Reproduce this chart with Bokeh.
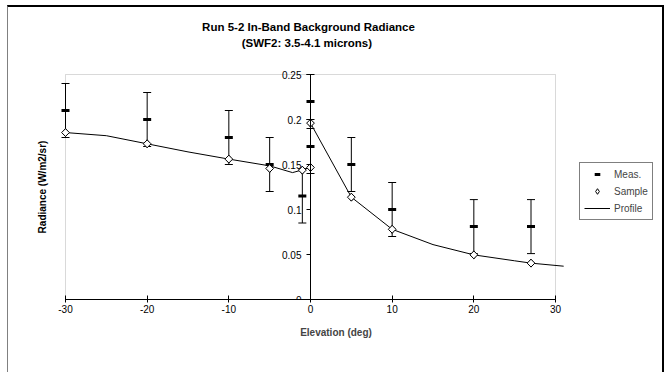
from bokeh.plotting import figure
from bokeh.models import (Range1d, FixedTicker, ColumnDataSource, Whisker, TeeHead,
                          Legend, LegendItem, Label, BoxAnnotation)
from bokeh.embed import file_html
from bokeh.resources import INLINE
import math

# ---- data ----
title_lines = ["Run 5-2 In-Band Background Radiance", "(SWF2:  3.5-4.1 microns)"]
x_label = "Elevation (deg)"
y_label = "Radiance (W/m2/sr)"

meas_x = [-30, -20, -10, -5, -1, 0, 0, 5, 10, 20, 27]
meas_y = [0.21, 0.20, 0.18, 0.15, 0.115, 0.22, 0.17, 0.15, 0.10, 0.081, 0.081]
meas_err = [0.03, 0.03, 0.03, 0.03, 0.03, 0.03, 0.03, 0.03, 0.03, 0.03, 0.03]

sample_x = [-30, -20, -10, -5, -1, 0, 0, 5, 10, 20, 27]
sample_y = [0.1855, 0.173, 0.156, 0.1456, 0.1437, 0.1467, 0.196, 0.1137, 0.078, 0.0496, 0.0404]

profile_x = [-30, -25, -20, -15, -10, -5, -2.2, -1, 0, 0, 5, 10, 15, 20, 25, 27, 31]
profile_y = [0.1855, 0.182, 0.173, 0.164, 0.156, 0.1485, 0.141, 0.144, 0.147, 0.196,
             0.1137, 0.078, 0.061, 0.0496, 0.043, 0.0404, 0.037]

x_ticks = [-30, -20, -10, 0, 10, 20, 30]
x_tick_labels = ["-30", "-20", "-10", "0", "10", "20", "30"]
y_ticks = [0, 0.05, 0.1, 0.15, 0.2, 0.25]
y_tick_labels = ["0", "0.05", "0.1", "0.15", "0.2", "0.25"]
x_min, x_max = -30, 30
y_min, y_max = 0, 0.25

FONT = "Liberation Sans"

# ---- layout (pixels, page coordinates) ----
CONTENT_L, CONTENT_T = 7, 5          # inside the outer border
CONTENT_W, CONTENT_H = 657, 367
AREA_L, AREA_R, AREA_T, AREA_B = 64, 554, 72, 297   # grey plot-area box
FRAME_L, FRAME_R, FRAME_T = CONTENT_L, 662, CONTENT_T
kx = (AREA_R - AREA_L) / (x_max - x_min)
ky = (AREA_B - AREA_T) / (y_max - y_min)
x0 = x_min - (AREA_L - FRAME_L) / kx
x1 = x_max + (FRAME_R - AREA_R) / kx
y1 = y_min + (AREA_B - FRAME_T) / ky

def dx(px):
    return x_min + (px - AREA_L) / kx

def dy(py):
    return y_min + (AREA_B - py) / ky

p = figure(width=CONTENT_W, height=CONTENT_H, output_backend="svg", toolbar_location=None,
           x_range=Range1d(x0, x1), y_range=Range1d(y_min, y1), title=None,
           min_border_left=FRAME_L - CONTENT_L, min_border_right=CONTENT_L + CONTENT_W - FRAME_R,
           min_border_top=0, min_border_bottom=CONTENT_T + CONTENT_H - AREA_B)
p.margin = (CONTENT_T, 669 - CONTENT_L - CONTENT_W, 0, CONTENT_L)
p.styles = {"border-top": "2px solid #000000", "border-left": "1px solid #808080",
            "border-right": "2px solid #000000"}

p.grid.visible = False
p.outline_line_color = None
p.background_fill_color = "white"
p.border_fill_color = "white"

p.add_layout(BoxAnnotation(left=x_min, right=x_max, bottom=y_min, top=y_max,
                           fill_alpha=0, line_color="#808080", line_width=1, level="underlay"))

# titles
for i, t in enumerate(title_lines):
    p.add_layout(Label(x=dx(307), y=dy(24 + 16 * i), text=t, text_align="center",
                       text_baseline="middle", text_font=FONT, text_font_size="11.5px",
                       text_font_style="bold", text_color="black"))

# x axis
xa = p.xaxis[0]
xa.bounds = (x_min, x_max)
xa.ticker = FixedTicker(ticks=x_ticks)
xa.major_label_overrides = {t: s for t, s in zip(x_ticks, x_tick_labels)}
xa.minor_tick_line_color = None
xa.major_tick_in = 4
xa.major_tick_out = 3
xa.axis_line_color = "black"
xa.major_tick_line_color = "black"
xa.major_label_standoff = 2
xa.major_label_text_font = FONT
xa.major_label_text_font_size = "10px"
xa.major_label_text_color = "black"
xa.axis_label = x_label
xa.axis_label_text_font = FONT
xa.axis_label_text_font_size = "10px"
xa.axis_label_text_font_style = "bold"
xa.axis_label_standoff = 11

# y axis at x = 0
ya = p.yaxis[0]
ya.fixed_location = 0
ya.bounds = (y_min, y_max)
ya.ticker = FixedTicker(ticks=y_ticks)
ya.major_label_overrides = {t: s for t, s in zip(y_ticks, y_tick_labels)}
ya.minor_tick_line_color = None
ya.major_tick_in = 0
ya.major_tick_out = 4
ya.axis_line_color = "black"
ya.major_tick_line_color = "black"
ya.major_label_standoff = 5
ya.major_label_text_font = FONT
ya.major_label_text_font_size = "10px"
ya.major_label_text_color = "black"

p.add_layout(Label(x=dx(41), y=(y_min + y_max) / 2, text=y_label,
                   angle=math.pi / 2, text_align="center", text_baseline="middle",
                   text_font=FONT, text_font_size="10px", text_font_style="bold",
                   text_color="black"))

# error bars
lower = [m - e for m, e in zip(meas_y, meas_err)]
upper = [m + e for m, e in zip(meas_y, meas_err)]
src = ColumnDataSource(dict(x=meas_x, y=meas_y, lower=lower, upper=upper))
p.add_layout(Whisker(base="x", lower="lower", upper="upper", source=src,
                     line_color="black", line_width=1,
                     upper_head=TeeHead(size=8, line_color="black", line_width=1),
                     lower_head=TeeHead(size=8, line_color="black", line_width=1)))

prof = p.line(profile_x, profile_y, line_color="black", line_width=1)
meas = p.scatter("x", "y", source=src, marker="dash", size=8, line_width=3, line_color="black")
ssrc = ColumnDataSource(dict(x=sample_x, y=sample_y))
# small diamond (legend swatch), hidden under the rotated-square markers
samp_key = p.scatter("x", "y", source=ssrc, marker="diamond", size=8, fill_color="white",
                     line_color="black", line_width=1)
samp = p.scatter("x", "y", source=ssrc, marker="square", angle=math.pi / 4, size=5.5,
                 fill_color="white", line_color="black", line_width=1)

legend = Legend(items=[LegendItem(label="Meas.", renderers=[meas]),
                       LegendItem(label="Sample", renderers=[samp_key]),
                       LegendItem(label="Profile", renderers=[prof])],
                location=(578 - FRAME_L, AREA_B - 218), border_line_color="black",
                border_line_width=1,
                label_text_font=FONT, label_text_font_size="10px",
                glyph_width=26, glyph_height=14, label_height=14, label_standoff=4,
                spacing=3, padding=4, margin=0, background_fill_alpha=1)
p.add_layout(legend, "center")

open("out.html", "w").write(file_html(p, INLINE))
